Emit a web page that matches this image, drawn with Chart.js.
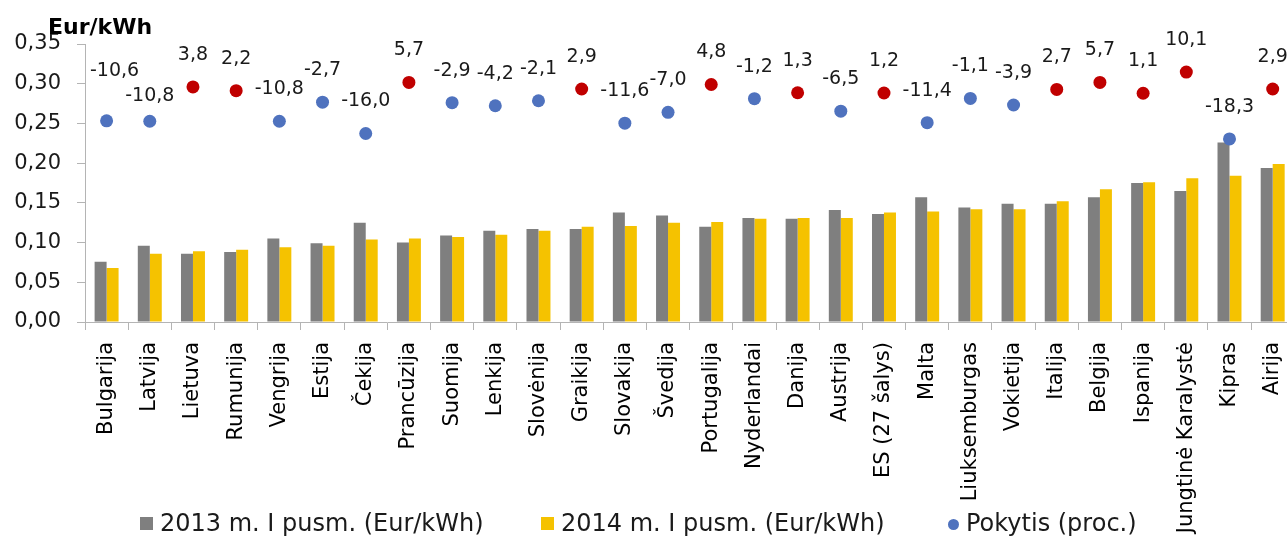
<!DOCTYPE html>
<html lang="lt">
<head>
<meta charset="utf-8">
<title>Elektros kainos</title>
<script src="https://cdn.jsdelivr.net/npm/chart.js@4.4.1/dist/chart.umd.min.js"></script>
<style>
  html, body { margin: 0; padding: 0; background: #fff; overflow: hidden; }
  #wrap { position: relative; width: 1310px; height: 537px; }
  .leg { position: absolute; top: 509px; height: 28px; line-height: 28px;
         font-family: 'DejaVu Sans', sans-serif; font-size: 24px; color: #1a1a1a; white-space: nowrap; }
  .leg i { display: inline-block; width: 13px; height: 13px; margin-right: 7px; vertical-align: 1px; }
</style>
</head>
<body>
<div id="wrap">
  <canvas id="chart"></canvas>
  <div class="leg" style="left:140px"><i style="background:#7f7f7f"></i>2013 m. I pusm. (Eur/kWh)</div>
  <div class="leg" style="left:541px"><i style="background:#f5c200"></i>2014 m. I pusm. (Eur/kWh)</div>
  <div class="leg" style="left:948px"><i style="background:#4f72be;border-radius:50%;width:11px;height:11px"></i>Pokytis (proc.)</div>
</div>
<script>
// data
const categories = [
  "Bulgarija", "Latvija", "Lietuva", "Rumunija", "Vengrija", "Estija", "Čekija",
  "Prancūzija", "Suomija", "Lenkija", "Slovėnija", "Graikija", "Slovakija", "Švedija",
  "Portugalija", "Nyderlandai", "Danija", "Austrija", "ES (27 šalys)", "Malta",
  "Liuksemburgas", "Vokietija", "Italija", "Belgija", "Ispanija", "Jungtinė Karalystė",
  "Kipras", "Airija",
];
const price2013 = [
  0.076, 0.096, 0.086, 0.088, 0.105, 0.099, 0.125, 0.100, 0.109, 0.115,
  0.117, 0.117, 0.138, 0.134, 0.120, 0.131, 0.130, 0.141, 0.136, 0.157,
  0.144, 0.149, 0.149, 0.157, 0.175, 0.165, 0.226, 0.194,
];
const price2014 = [
  0.068, 0.086, 0.089, 0.091, 0.094, 0.096, 0.104, 0.105, 0.107, 0.110,
  0.115, 0.120, 0.121, 0.125, 0.126, 0.130, 0.131, 0.131, 0.138, 0.139,
  0.142, 0.142, 0.152, 0.167, 0.176, 0.181, 0.184, 0.199,
];
const changePct = [
  -10.6, -10.8, 3.8, 2.2, -10.8, -2.7, -16.0, 5.7, -2.9, -4.2,
  -2.1, 2.9, -11.6, -7.0, 4.8, -1.2, 1.3, -6.5, 1.2, -11.4,
  -1.1, -3.9, 2.7, 5.7, 1.1, 10.1, -18.3, 2.9,
];
const yTicks = [0, 0.05, 0.1, 0.15, 0.2, 0.25, 0.3, 0.35];

const FONT = "'DejaVu Sans', sans-serif";
const fmt = (v, d) => v.toFixed(d).replace(".", ",");

// a couple of labels were moved by hand in the original
const labelNudge = { Bulgarija: [8, -18], Latvija: [0, 7] };

const extras = {
  id: "extras",
  afterDatasetsDraw(chart) {
    const ctx = chart.ctx;
    const meta = chart.getDatasetMeta(0);
    ctx.save();
    ctx.font = "19px " + FONT;
    ctx.fillStyle = "#1a1a1a";
    ctx.textAlign = "center";
    ctx.textBaseline = "middle";
    meta.data.forEach((pt, i) => {
      const n = labelNudge[categories[i]] || [0, 0];
      ctx.fillText(fmt(changePct[i], 1), pt.x + n[0], pt.y - 32 + n[1]);
    });
    ctx.font = "bold 22px " + FONT;
    ctx.textAlign = "left";
    ctx.textBaseline = "alphabetic";
    ctx.fillStyle = "#000";
    ctx.fillText("Eur/kWh", 48, 34);
    ctx.restore();
  },
};

const axisGray = "#b4b4b4";

new Chart(document.getElementById("chart"), {
  type: "bar",
  data: {
    labels: categories,
    datasets: [
      {
        type: "line",
        label: "Pokytis (proc.)",
        data: changePct,
        yAxisID: "y1",
        showLine: false,
        pointRadius: 6.5,
        pointHoverRadius: 6.5,
        pointBorderWidth: 0,
        pointBackgroundColor: changePct.map((v) => (v >= 0 ? "#c00000" : "#4f72be")),
        order: 0,
      },
      {
        label: "2013 m. I pusm. (Eur/kWh)",
        data: price2013,
        backgroundColor: "#7f7f7f",
        categoryPercentage: 0.555,
        barPercentage: 1.0,
        order: 1,
      },
      {
        label: "2014 m. I pusm. (Eur/kWh)",
        data: price2014,
        backgroundColor: "#f5c200",
        categoryPercentage: 0.555,
        barPercentage: 1.0,
        order: 1,
      },
    ],
  },
  options: {
    responsive: true,
    maintainAspectRatio: false,
    animation: false,
    layout: { padding: { top: 44, right: 0, left: 0, bottom: 0 } },
    plugins: {
      legend: { display: false },
      tooltip: { enabled: false },
    },
    scales: {
      x: {
        offset: true,
        grid: {
          offset: true,
          drawOnChartArea: false,
          tickLength: 8,
          color: axisGray,
        },
        border: { color: axisGray },
        ticks: {
          autoSkip: false,
          minRotation: 90,
          maxRotation: 90,
          padding: 12,
          color: "#000",
          font: { family: FONT, size: 21 },
        },
        afterFit(scale) {
          scale.height = 215;
        },
      },
      y: {
        min: 0,
        max: 0.35,
        afterBuildTicks(scale) {
          scale.ticks = yTicks.map((v) => ({ value: v }));
        },
        grid: {
          drawOnChartArea: false,
          tickLength: 8,
          color: axisGray,
        },
        border: { color: axisGray },
        ticks: {
          padding: 16,
          color: "#1a1a1a",
          font: { family: FONT, size: 21 },
          callback: (v) => fmt(v, 2),
        },
        afterFit(scale) {
          scale.width = 85;
        },
      },
      y1: {
        display: false,
        position: "right",
        min: -96,
        max: 22,
      },
    },
  },
  plugins: [extras],
});
</script>
</body>
</html>
